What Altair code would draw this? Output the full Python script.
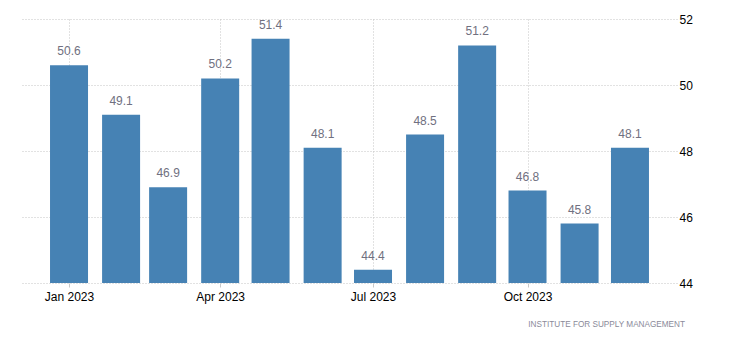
import altair as alt
import pandas as pd

months = ["2023-01-01", "2023-02-01", "2023-03-01", "2023-04-01", "2023-05-01", "2023-06-01",
          "2023-07-01", "2023-08-01", "2023-09-01", "2023-10-01", "2023-11-01", "2023-12-01"]
values = [50.6, 49.1, 46.9, 50.2, 51.4, 48.1, 44.4, 48.5, 51.2, 46.8, 45.8, 48.1]
labels = [f"{v:.1f}" for v in values]
y_ticks = [44, 46, 48, 50, 52]
source_text = "INSTITUTE FOR SUPPLY MANAGEMENT"

df = pd.DataFrame({"date": months, "value": values, "label": labels})

FONT = "Liberation Sans"
x_scale = alt.Scale(type="utc", nice=False, padding=0,
                    domain=[alt.DateTime(year=2022, month=12, date=4, utc=True),
                            alt.DateTime(year=2023, month=12, date=29, utc=True)])
y_scale = alt.Scale(domain=[44, 52], nice=False, zero=False, padding=0)

x_enc = alt.X("date:T", scale=x_scale, title=None,
              axis=alt.Axis(values=[alt.DateTime(year=2023, month=m, date=1, utc=True) for m in (1, 4, 7, 10)],
                            format="%b %Y", labelFont=FONT, labelFontSize=12, labelColor="#000000",
                            labelPadding=4, tickSize=4, tickColor="#c8c8c8", domain=False,
                            grid=True, gridColor="#c4c4c4", gridDash=[1, 2], labelFlush=False))

bars = alt.Chart(df).mark_bar(size=38, color="#4682b4").encode(
    x=x_enc,
    y=alt.Y("value:Q", scale=y_scale, title=None,
            axis=alt.Axis(orient="right", values=y_ticks, labelFont=FONT, labelFontSize=12,
                          labelColor="#000000", labelPadding=2, ticks=False, domain=False,
                          grid=True, gridColor="#c4c4c4", gridDash=[1, 2])),
    y2=alt.datum(44),
)

text = alt.Chart(df).mark_text(baseline="bottom", dy=-7, font=FONT, fontSize=12, color="#707080").encode(
    x=alt.X("date:T", scale=x_scale),
    y=alt.Y("value:Q", scale=y_scale),
    text="label:N",
)

source = alt.Chart(pd.DataFrame({"t": [source_text]})).mark_text(
    align="right", baseline="middle", font=FONT, fontSize=8.2, color="#8a8a99"
).encode(x=alt.value(663), y=alt.value(306), text="t:N")

chart = alt.layer(bars, text, source).properties(
    width=655, height=264,
    background="white",
    autosize=alt.AutoSizeParams(type="none"),
    padding={"left": 22, "top": 19, "right": 53, "bottom": 68},
).configure_view(stroke=None)

chart.save("out.html", embed_options={"renderer": "svg", "actions": False})
